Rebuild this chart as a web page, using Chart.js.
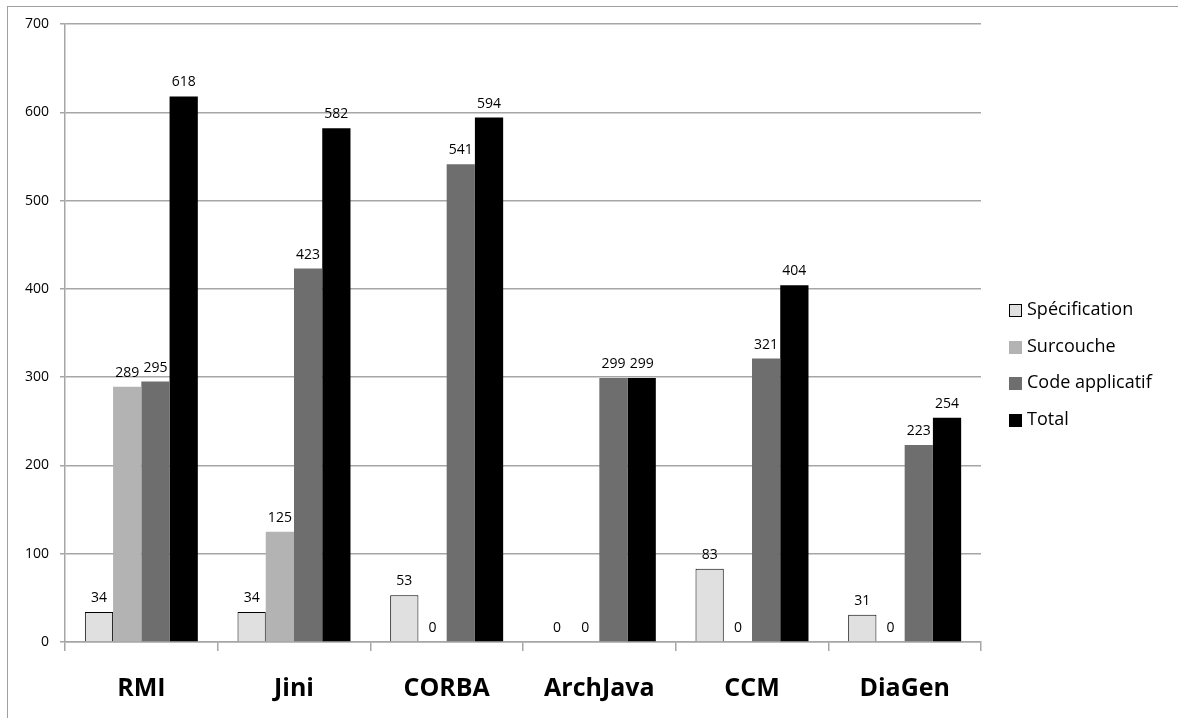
<!DOCTYPE html>
<html>
<head>
<meta charset="utf-8">
<script src="https://cdn.jsdelivr.net/npm/chart.js@4/dist/chart.umd.min.js"></script>
<style>
  html, body { margin: 0; padding: 0; background: #fff; }
  #wrap { position: relative; width: 1178px; height: 718px; overflow: hidden; }
  #frame { position: absolute; left: 7px; top: 6px; width: 1300px; height: 800px; border: 1px solid #a0a0a0; }
  canvas { position: absolute; left: 0; top: 0; }
</style>
</head>
<body>
<div id="wrap">
  <div id="frame"></div>
  <canvas id="chart" width="1178" height="718"></canvas>
</div>
<script>
// values
const categories = ["RMI", "Jini", "CORBA", "ArchJava", "CCM", "DiaGen"];
const seriesNames = ["Spécification", "Surcouche", "Code applicatif", "Total"];
const specification = [34, 34, 53, 0, 83, 31];
const surcouche = [289, 125, 0, 0, 0, 0];
const codeApplicatif = [295, 423, 541, 299, 321, 223];
const total = [618, 582, 594, 299, 404, 254];
const yMax = 700, yStep = 100;

const FONT = "'Open Sans', 'DejaVu Sans', sans-serif";
const GRID = "#a6a6a6";

const fills = ["#e0e0e0", "#b3b3b3", "#6e6e6e", "#000000"];
const borders = [1, 0, 0, 0];

// value labels above each bar (zeros included)
const valueLabels = {
  id: "valueLabels",
  afterDatasetsDraw(chart) {
    const ctx = chart.ctx;
    ctx.save();
    ctx.font = "14px " + FONT;
    ctx.fillStyle = "#000";
    ctx.textAlign = "center";
    ctx.textBaseline = "bottom";
    chart.data.datasets.forEach((ds, i) => {
      chart.getDatasetMeta(i).data.forEach((bar, j) => {
        ctx.fillText(String(ds.data[j]), bar.x, bar.y - 7);
      });
    });
    ctx.restore();
  },
};

// legend to the right, built from the datasets
const sideLegend = {
  id: "sideLegend",
  afterDraw(chart) {
    const ctx = chart.ctx;
    const x = chart.chartArea.right + 28;
    const rows = [310, 347, 383, 420];
    ctx.save();
    ctx.font = "18px " + FONT;
    ctx.textBaseline = "middle";
    ctx.textAlign = "left";
    chart.data.datasets.forEach((ds, i) => {
      const y = rows[i];
      ctx.fillStyle = ds.backgroundColor;
      ctx.fillRect(x, y - 6, 13, 13);
      if (ds.borderWidth) {
        ctx.strokeStyle = "#000";
        ctx.lineWidth = 1;
        ctx.strokeRect(x + 0.5, y - 5.5, 12, 12);
      }
      ctx.fillStyle = "#000";
      ctx.fillText(ds.label, x + 18, y);
    });
    ctx.restore();
  },
};

const seriesData = [specification, surcouche, codeApplicatif, total];

new Chart(document.getElementById("chart"), {
  type: "bar",
  data: {
    labels: categories,
    datasets: seriesData.map((d, i) => ({
      label: seriesNames[i],
      data: d,
      backgroundColor: fills[i],
      borderColor: "#000",
      borderWidth: borders[i],
      categoryPercentage: 0.74,
      barPercentage: 1,
    })),
  },
  options: {
    responsive: false,
    animation: false,
    devicePixelRatio: 1,
    layout: { padding: { top: 24, right: 197, left: 0, bottom: 0 } },
    plugins: { legend: { display: false }, tooltip: { enabled: false } },
    scales: {
      x: {
        grid: { offset: true, drawOnChartArea: false, color: GRID, lineWidth: 1.5, tickLength: 9 },
        border: { color: GRID, width: 1.5 },
        ticks: { color: "#000", font: { family: FONT, size: 25, weight: "bold" }, padding: 23 },
        afterFit: (s) => { s.height = 76; },
      },
      y: {
        min: 0,
        max: yMax,
        grid: { color: GRID, lineWidth: 1.5, tickLength: 5 },
        border: { color: GRID, width: 1.5 },
        ticks: { stepSize: yStep, color: "#000", font: { family: FONT, size: 14 }, padding: 11 },
        afterFit: (s) => { s.width = 65; },
      },
    },
  },
  plugins: [valueLabels, sideLegend],
});
</script>
</body>
</html>
